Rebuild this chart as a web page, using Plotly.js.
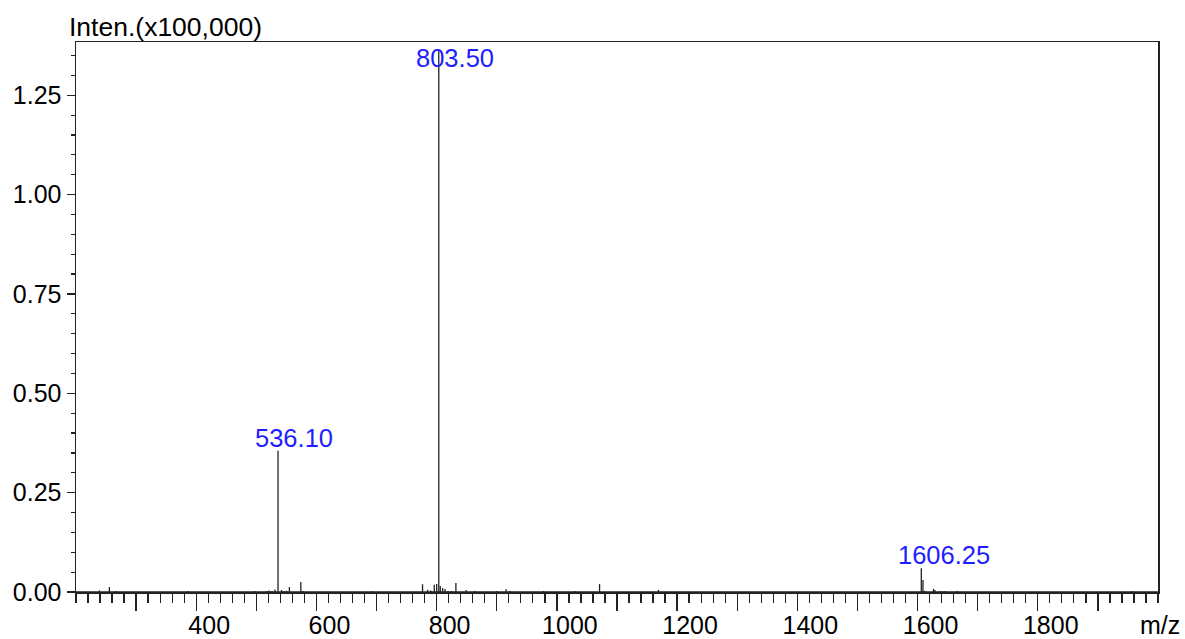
<!DOCTYPE html>
<html>
<head>
<meta charset="utf-8">
<script src="https://cdn.plot.ly/plotly-3.0.1.min.js"></script>
<style>html,body{margin:0;padding:0;background:#fff;}#chart{width:1185px;height:639px;}</style>
</head>
<body>
<div id="chart"></div>
<script>
// m/z values of the peaks
var mz = [239, 255.5, 266.5, 386, 497, 517, 521, 526, 531, 536.10, 542, 546.5, 550.5, 555, 574, 577, 692,
          776.5, 785, 790, 796, 800, 803.50, 806, 810, 814, 819, 825, 832, 849, 863.5, 899.5, 915.5, 922,
          978, 1030, 1071, 1169, 1606.25, 1609, 1612, 1626.5, 1629, 1637, 1642, 1646, 1666, 1956];
// intensities (x100,000)
var inten = [0.004, 0.0125, 0.0025, 0.0025, 0.0025, 0.0025, 0.004, 0.0025, 0.006, 0.3554, 0.005, 0.0025, 0.003, 0.0125, 0.025, 0.0025, 0.002,
             0.0195, 0.0055, 0.004, 0.0185, 0.02, 1.365, 0.015, 0.01, 0.0075, 0.0025, 0.0025, 0.0225, 0.005, 0.0025, 0.0025, 0.007, 0.0025,
             0.0025, 0.0025, 0.02, 0.005, 0.0596, 0.03, 0.003, 0.008, 0.005, 0.0025, 0.002, 0.0025, 0.0025, 0.0025];
// labelled peaks
var labelMz = [536.10, 803.50, 1606.25];
var labelText = ['536.10', '803.50', '1606.25'];
// axis ticks
var xTickVals = [300, 400, 500, 600, 700, 800, 900, 1000, 1100, 1200, 1300, 1400, 1500, 1600, 1700, 1800, 1900];
var xTickText = ['', '400', '', '600', '', '800', '', '1000', '', '1200', '', '1400', '', '1600', '', '1800', ''];
var xRange = [200, 2000];
var yRange = [0, 1.384];

// build stick spectrum
var sx = [], sy = [];
sx.push(xRange[0]); sy.push(0);
sx.push(xRange[1]); sy.push(0);
sx.push(null); sy.push(null);
for (var i = 0; i < mz.length; i++) {
  sx.push(mz[i], mz[i], null);
  sy.push(0, inten[i], null);
}

var font = 'Arial, "Liberation Sans", sans-serif';
var annotations = [];
for (var j = 0; j < labelMz.length; j++) {
  var idx = mz.indexOf(labelMz[j]);
  var h = inten[idx];
  var nearTop = h / yRange[1] > 0.9;
  annotations.push({
    x: labelMz[j], y: h, xref: 'x', yref: 'y',
    text: labelText[j], showarrow: false,
    xanchor: 'left', yanchor: nearTop ? 'top' : 'bottom',
    xshift: -25, yshift: nearTop ? 8 : -3,
    font: {family: font, size: 25.5, color: '#1e1eff'}
  });
}
annotations.push({
  xref: 'paper', yref: 'paper', x: -9 / 1082, y: 1 + (42 - 27) / 550,
  xanchor: 'left', yanchor: 'middle', showarrow: false,
  text: 'Inten.(x100,000)', font: {family: font, size: 26.5, color: '#000'}
});
annotations.push({
  xref: 'paper', yref: 'paper', x: (1160 - 76) / 1082, y: -(625 - 592) / 550,
  xanchor: 'center', yanchor: 'middle', showarrow: false,
  text: 'm/z', font: {family: font, size: 25, color: '#000'}
});

var trace = {
  x: sx, y: sy, type: 'scatter', mode: 'lines',
  line: {color: '#222', width: 1.3}, hoverinfo: 'skip', connectgaps: false
};

var layout = {
  width: 1185, height: 639,
  margin: {l: 76, r: 27, t: 42, b: 47, pad: 0},
  paper_bgcolor: '#fff', plot_bgcolor: '#fff',
  showlegend: false,
  font: {family: font, size: 25, color: '#000'},
  xaxis: {
    range: xRange, showgrid: false, zeroline: false,
    showline: true, mirror: true, linecolor: '#222', linewidth: 1.5,
    tickmode: 'array', tickvals: xTickVals, ticktext: xTickText,
    ticks: 'outside', ticklen: 17, tickwidth: 1.3, tickcolor: '#222',
    ticklabelshift: 13, ticklabelstandoff: -7,
    tickfont: {family: font, size: 25, color: '#000'},
    minor: {tickmode: 'linear', tick0: 200, dtick: 20, ticks: 'outside', ticklen: 9, tickwidth: 1.3, tickcolor: '#222', showgrid: false}
  },
  yaxis: {
    range: yRange, showgrid: false, zeroline: false,
    showline: true, mirror: true, linecolor: '#222', linewidth: 1.5,
    tickmode: 'linear', tick0: 0, dtick: 0.25, tickformat: '.2f',
    ticks: 'outside', ticklen: 8, tickwidth: 1.3, tickcolor: '#222',
    tickfont: {family: font, size: 25, color: '#000'},
    minor: {tickmode: 'linear', tick0: 0, dtick: 0.05, ticks: 'outside', ticklen: 4, tickwidth: 1.2, tickcolor: '#222', showgrid: false}
  },
  annotations: annotations
};

Plotly.newPlot('chart', [trace], layout, {staticPlot: true, displayModeBar: false});
</script>
</body>
</html>
